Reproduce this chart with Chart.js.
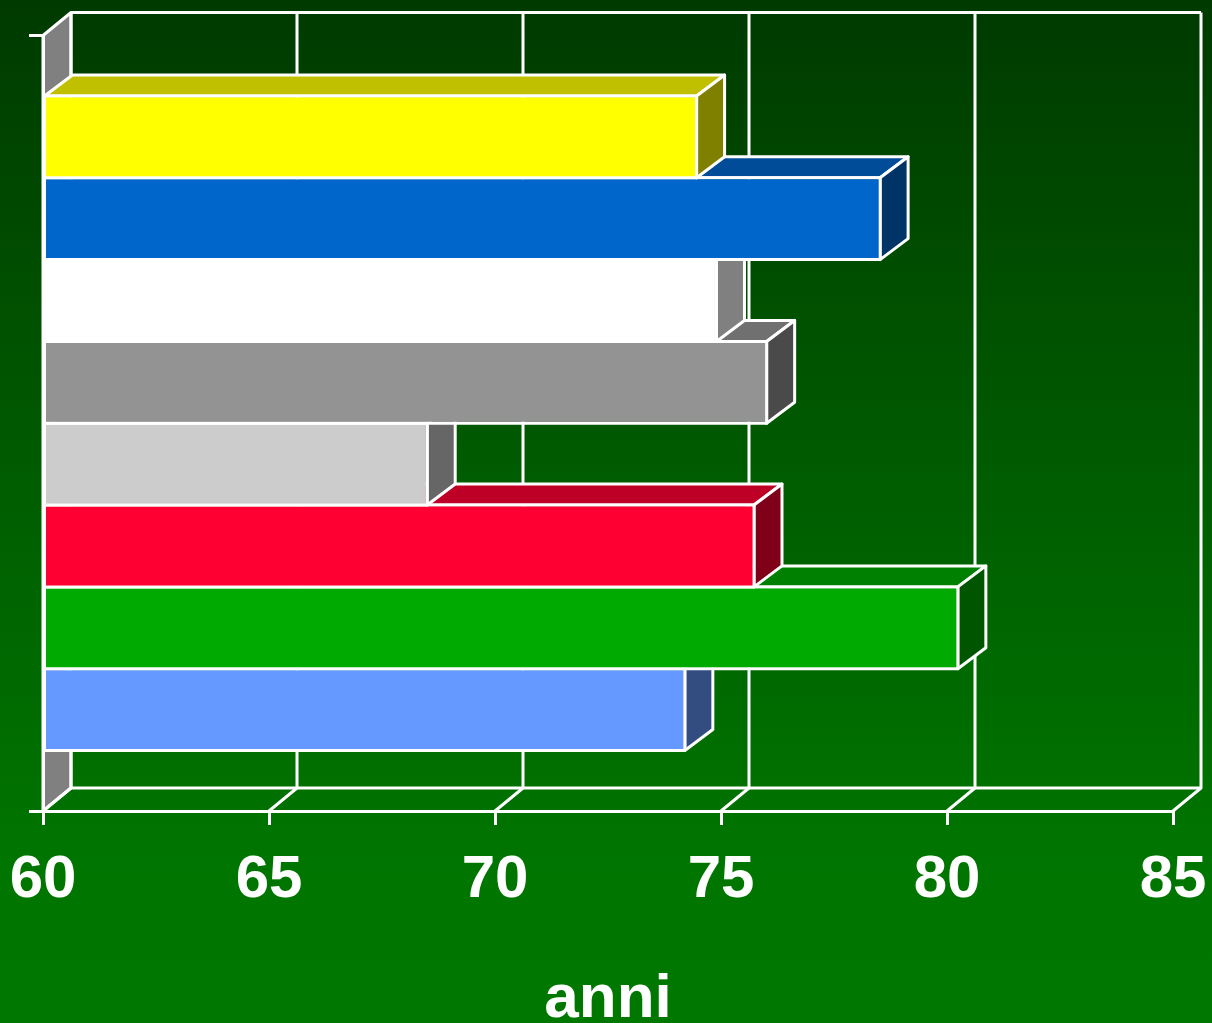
<!DOCTYPE html>
<html>
<head>
<meta charset="utf-8">
<script src="https://cdn.jsdelivr.net/npm/chart.js@4"></script>
<style>
  html, body { margin: 0; padding: 0; background: #005a00; }
  canvas { display: block; }
</style>
</head>
<body>
<canvas id="myChart" width="1212" height="1023"></canvas>
<script>
var categories = [""];
var seriesValues = [74.46, 78.52, 74.9, 76.01, 68.5, 75.73, 80.24, 74.2];
var barColors = ["#ffff00", "#0066cc", "#ffffff", "#939393", "#cccccc", "#ff0033", "#00aa00", "#6699ff"];
var topColors = ["#c0c000", "#004c99", "#bfbfbf", "#707070", "#999999", "#bf0026", "#008000", "#4d73bf"];
var sideColors = ["#808000", "#003366", "#808080", "#4a4a4a", "#666666", "#800019", "#005500", "#334d80"];
var xTicks = [60, 65, 70, 75, 80, 85];
var xTitle = "anni";

var wallX = 28, wallY = 23;
var barX = 28, barY = 21;
var white = "#ffffff";
var lineW = 3;

function poly(ctx, pts, fill) {
  ctx.beginPath();
  ctx.moveTo(pts[0][0], pts[0][1]);
  for (var i = 1; i < pts.length; i++) ctx.lineTo(pts[i][0], pts[i][1]);
  ctx.closePath();
  if (fill) { ctx.fillStyle = fill; ctx.fill(); }
  ctx.stroke();
}

// background, left wall and back wall grid
var wallPlugin = {
  id: "wall",
  beforeDraw: function (chart) {
    var ctx = chart.ctx, a = chart.chartArea, xs = chart.scales.x;
    var g = ctx.createLinearGradient(0, 0, 0, chart.height);
    g.addColorStop(0, "#003a00");
    g.addColorStop(0.6, "#006600");
    g.addColorStop(0.85, "#007500");
    g.addColorStop(1, "#007800");
    ctx.save();
    ctx.fillStyle = g;
    ctx.fillRect(0, 0, chart.width, chart.height);
    ctx.strokeStyle = white;
    ctx.lineWidth = lineW;
    ctx.lineJoin = "round";
    poly(ctx, [[a.left, a.top], [a.left + wallX, a.top - wallY], [a.left + wallX, a.bottom - wallY], [a.left, a.bottom]], "#808080");
    xTicks.forEach(function (t) {
      var px = xs.getPixelForValue(t);
      ctx.beginPath();
      ctx.moveTo(px, a.bottom);
      ctx.lineTo(px + wallX, a.bottom - wallY);
      ctx.lineTo(px + wallX, a.top - wallY);
      ctx.stroke();
    });
    ctx.beginPath();
    ctx.moveTo(a.left + wallX, a.top - wallY);
    ctx.lineTo(a.right + wallX, a.top - wallY);
    ctx.moveTo(a.left + wallX, a.bottom - wallY);
    ctx.lineTo(a.right + wallX, a.bottom - wallY);
    ctx.stroke();
    ctx.restore();
  },
  // top and side faces of each bar, library draws the front face after this
  beforeDatasetDraw: function (chart, args) {
    var ctx = chart.ctx, i = args.index;
    var p = args.meta.data[0].getProps(["x", "y", "base", "height"]);
    var t = p.y - p.height / 2, b = p.y + p.height / 2;
    ctx.save();
    ctx.strokeStyle = white;
    ctx.lineWidth = lineW;
    ctx.lineJoin = "round";
    poly(ctx, [[p.base, t], [p.base + barX, t - barY], [p.x + barX, t - barY], [p.x, t]], topColors[i]);
    poly(ctx, [[p.x, t], [p.x + barX, t - barY], [p.x + barX, b - barY], [p.x, b]], sideColors[i]);
    poly(ctx, [[p.base, t], [p.x, t], [p.x, b], [p.base, b]]);
    ctx.restore();
  }
};

new Chart("myChart", {
  type: "bar",
  plugins: [wallPlugin],
  data: {
    labels: categories,
    datasets: seriesValues.map(function (v, i) {
      return {
        data: [v],
        base: xTicks[0],
        backgroundColor: barColors[i],
        borderColor: white,
        borderWidth: lineW / 2,
        borderSkipped: false,
        inflateAmount: 0,
        categoryPercentage: 0.844,
        barPercentage: 1,
        clip: false
      };
    })
  },
  options: {
    indexAxis: "y",
    responsive: false,
    animation: false,
    layout: { padding: { top: 35.5, right: 39, left: 0, bottom: 0 } },
    plugins: { legend: { display: false }, title: { display: false }, tooltip: { enabled: false } },
    scales: {
      x: {
        min: 60,
        max: 85,
        afterBuildTicks: function (s) { s.ticks = xTicks.map(function (v) { return { value: v }; }); },
        afterFit: function (s) { s.height = 212; s.paddingRight = 0; s.paddingLeft = 0; },
        border: { color: white, width: lineW },
        grid: { drawOnChartArea: false, color: white, lineWidth: lineW, tickLength: 14 },
        ticks: {
          color: white,
          font: { family: "'Liberation Sans'", weight: "bold", size: 60 },
          maxRotation: 0,
          autoSkip: false,
          padding: 19
        },
        title: {
          display: true,
          text: xTitle,
          color: white,
          font: { family: "'Liberation Sans'", weight: "bold", size: 62 },
          padding: { top: 26, bottom: -14 }
        }
      },
      y: {
        afterFit: function (s) { s.width = 43; },
        border: { color: white, width: lineW },
        grid: { offset: true, drawOnChartArea: false, color: white, lineWidth: lineW, tickLength: 14 },
        ticks: { display: true, color: white, padding: 0 }
      }
    }
  }
});
</script>
</body>
</html>
